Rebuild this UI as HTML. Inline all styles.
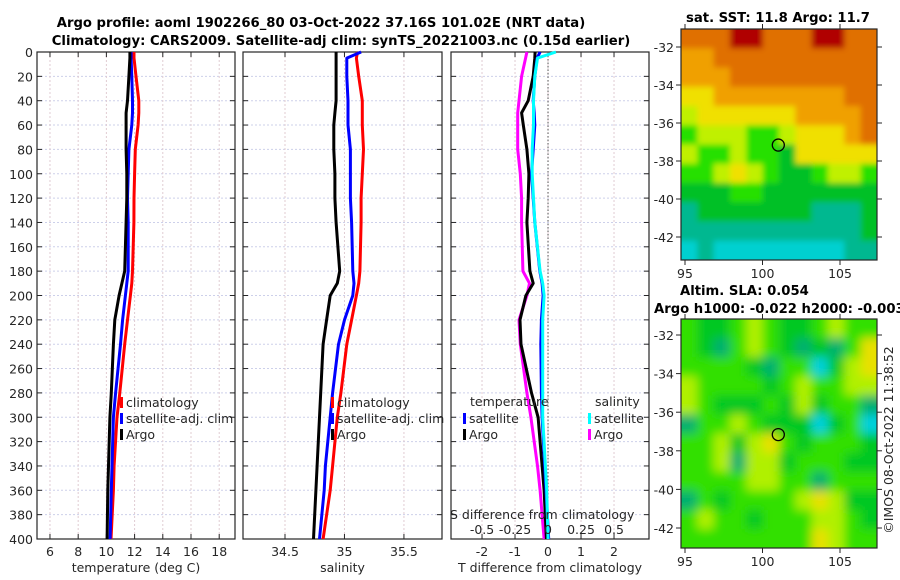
<!DOCTYPE html>
<html><head><meta charset="utf-8">
<style>
html,body{margin:0;padding:0;background:#fff;}
svg{display:block;font-family:"DejaVu Sans","Liberation Sans",sans-serif;}
.t{font-size:12.5px;fill:#262626;}
.b{font-weight:bold;font-size:13.2px;fill:#000;}
</style></head><body>
<svg id="fig" width="900" height="580" viewBox="0 0 900 580" xmlns="http://www.w3.org/2000/svg">
<defs>
<filter id="blurS" x="-5%" y="-5%" width="110%" height="110%"><feGaussianBlur stdDeviation="3"/></filter>
<filter id="blurL" x="-5%" y="-5%" width="110%" height="110%"><feGaussianBlur stdDeviation="5"/></filter>
<clipPath id="clipS"><rect x="681" y="29" width="196" height="231"/></clipPath>
<clipPath id="clipL"><rect x="681" y="319" width="196" height="229"/></clipPath>
</defs>
<text class="b" x="321" y="27" text-anchor="middle">Argo profile: aoml 1902266_80 03-Oct-2022 37.16S 101.02E (NRT data)</text>
<text class="b" x="341" y="45" text-anchor="middle">Climatology: CARS2009. Satellite-adj clim: synTS_20221003.nc (0.15d earlier)</text>
<text class="b" x="778" y="22" text-anchor="middle">sat. SST: 11.8 Argo: 11.7</text>
<text class="b" x="680" y="295">Altim. SLA: 0.054</text>
<text class="b" x="654" y="313">Argo h1000: -0.022 h2000: -0.003</text>
<text class="t" transform="translate(893,440) rotate(-90)" text-anchor="middle">©IMOS 08-Oct-2022 11:38:52</text>
<g id="plots"></g>
</svg>
<script>
// ---- data ----
const depths      = [0, 5, 20, 40, 50, 60, 80, 100, 120, 140, 180, 190, 200, 220, 240, 280, 300, 340, 360, 400];
const tempArgo    = [11.67,11.67,11.6,11.5,11.4,11.4,11.4,11.45,11.45,11.4,11.3,11.1,10.9,10.6,10.5,10.35,10.25,10.15,10.1,10.05];
const tempClim    = [11.96,11.96,12.1,12.3,12.3,12.25,12.05,12.0,11.96,11.95,11.85,11.8,11.7,11.5,11.3,10.95,10.75,10.55,10.5,10.33];
const tempSat     = [11.75,11.75,11.8,11.85,11.85,11.8,11.6,11.55,11.5,11.55,11.55,11.45,11.35,11.15,11.0,10.65,10.5,10.4,10.35,10.26];
const salArgo     = [34.93,34.93,34.93,34.93,34.92,34.91,34.91,34.92,34.92,34.93,34.96,34.94,34.88,34.85,34.82,34.80,34.79,34.77,34.76,34.74];
const salClim     = [35.11,35.10,35.12,35.15,35.15,35.15,35.16,35.15,35.14,35.14,35.13,35.12,35.10,35.06,35.02,34.97,34.94,34.90,34.88,34.82];
const salSat      = [35.14,35.02,35.02,35.03,35.03,35.03,35.05,35.05,35.05,35.06,35.07,35.08,35.07,35.0,34.95,34.9,34.88,34.84,34.83,34.79];
const tDiffArgo   = [-0.39,-0.4,-0.45,-0.6,-0.8,-0.75,-0.64,-0.58,-0.6,-0.64,-0.55,-0.45,-0.67,-0.85,-0.82,-0.5,-0.3,-0.18,-0.12,-0.05];
const tDiffSat    = [-0.24,-0.33,-0.4,-0.45,-0.42,-0.4,-0.45,-0.5,-0.45,-0.4,-0.25,-0.18,-0.15,-0.2,-0.22,-0.2,-0.18,-0.1,-0.06,0.02];
const sDiffArgo   = [-0.16,-0.17,-0.2,-0.22,-0.23,-0.23,-0.23,-0.21,-0.2,-0.2,-0.19,-0.14,-0.16,-0.22,-0.21,-0.16,-0.13,-0.08,-0.06,-0.03];
const sDiffSat    = [0.06,-0.08,-0.1,-0.11,-0.11,-0.11,-0.12,-0.12,-0.11,-0.1,-0.06,-0.04,-0.03,-0.04,-0.04,-0.04,-0.04,-0.02,-0.01,0.0];
const depthTicks  = [0,20,40,60,80,100,120,140,160,180,200,220,240,260,280,300,320,340,360,380,400];
const tempTicks   = [6,8,10,12,14,16,18];
const salTicks    = [34.5,35,35.5];
const tdTicks     = [-2,-1,0,1,2];
const sdTicks     = [-0.5,-0.25,0,0.25,0.5];
const sdTickLabels= ["-0.5","-0.25","0","0.25","0.5"];
const mapLonTicks = [95,100,105];
const mapLatTicks = [-32,-34,-36,-38,-40,-42];
const argoLon = 101.02, argoLat = -37.16;
const sstGrid = [
[15.6,15.6,15.6,16.4,16.4,15.6,15.6,15.6,16.4,16.4,15.6,15.6],
[14.8,14.8,15.6,15.6,15.6,15.6,15.6,15.6,15.6,15.6,15.6,15.6],
[14.8,14.8,14.8,15.6,15.6,15.6,15.6,15.6,15.6,15.6,15.6,15.6],
[14.0,14.0,14.8,14.8,14.8,14.8,14.8,14.8,14.8,14.8,15.6,15.6],
[13.2,14.0,14.0,14.0,14.0,14.0,14.0,14.8,14.8,14.8,14.8,15.6],
[12.4,13.2,13.2,13.2,12.4,12.4,13.2,14.0,14.0,14.0,14.8,15.6],
[13.2,12.4,12.4,13.2,12.4,12.4,11.6,14.0,14.0,14.0,14.0,14.0],
[12.4,12.4,13.2,14.0,13.2,12.4,11.6,11.6,12.4,13.2,13.2,12.4],
[11.6,11.6,11.6,12.4,12.4,11.6,11.6,11.6,11.6,11.6,11.6,11.6],
[10.8,11.6,11.6,11.6,11.6,11.6,11.6,11.6,10.8,10.8,10.8,11.6],
[10.8,10.8,10.8,10.8,10.8,10.8,10.8,10.8,10.8,10.8,10.8,11.6],
[10.0,10.8,10.0,10.0,10.0,10.0,10.0,10.0,10.0,10.0,10.8,10.8]];
const slaGrid = [
[0.03,-0.02,-0.02,0.03,0.09,0.03,-0.02,-0.02,0.03,0.09,0.03,0.03],
[0.03,-0.02,-0.08,0.03,0.09,0.03,-0.02,-0.08,-0.02,-0.08,0.03,0.15],
[0.03,0.03,0.03,0.03,-0.02,-0.08,0.03,0.03,-0.15,-0.02,0.09,0.15],
[0.09,0.03,0.03,0.03,0.03,-0.02,0.03,0.09,0.03,0.03,0.09,0.09],
[0.09,0.03,-0.02,-0.02,-0.02,0.03,-0.02,0.09,-0.02,0.03,0.03,-0.08],
[-0.08,0.03,0.03,0.09,0.03,-0.02,-0.02,-0.02,-0.15,-0.02,0.03,-0.15],
[0.03,0.03,0.09,-0.02,0.09,0.15,0.03,-0.02,0.03,0.03,0.03,-0.02],
[0.03,0.03,0.09,-0.08,0.09,0.09,-0.02,0.03,0.03,0.03,-0.02,-0.02],
[0.03,0.03,0.03,0.03,0.09,0.09,0.03,0.03,-0.08,0.03,0.03,0.03],
[-0.08,0.03,-0.02,0.03,0.03,0.03,0.03,0.09,0.15,0.09,-0.02,-0.02],
[0.03,0.09,0.03,0.03,-0.02,0.03,0.03,0.03,0.09,0.09,0.03,-0.02],
[0.03,0.03,0.03,0.03,0.03,0.03,0.03,0.03,0.15,0.09,0.03,0.03]];

// ---- drawing ----
const NS="http://www.w3.org/2000/svg";
const root=document.getElementById('plots');
function mk(tag,attrs,parent){const e=document.createElementNS(NS,tag);for(const k in attrs)e.setAttribute(k,attrs[k]);(parent||root).appendChild(e);return e;}
function lin(d0,d1,r0,r1){return v=>r0+(v-d0)/(d1-d0)*(r1-r0);}
const Y0=52,Y1=539;
const yD=lin(0,400,Y0,Y1);

function panel(name,x0,x1,dom,ticks,labels,xtitle,showY){
  const g=mk('g',{});
  
  
  const xs=lin(dom[0],dom[1],x0,x1);
  depthTicks.forEach(d=>{const l=mk('line',{x1:x0,x2:x1,y1:yD(d),y2:yD(d),stroke:'#cdd0ea','stroke-dasharray':'2,2','stroke-width':1},g);
    
    mk('line',{x1:x0,x2:x0+5,y1:yD(d),y2:yD(d),stroke:'#262626'},g);mk('line',{x1:x1-5,x2:x1,y1:yD(d),y2:yD(d),stroke:'#262626'},g);
    if(showY){const t=mk('text',{class:'t',x:x0-4,y:yD(d)+5,'text-anchor':'end'},g);t.textContent=d;
      }});
  ticks.forEach((v,i)=>{const l=mk('line',{x1:xs(v),x2:xs(v),y1:Y0,y2:Y1,stroke:'#e0ccd2','stroke-dasharray':'2,2'},g);
    
    mk('line',{x1:xs(v),x2:xs(v),y1:Y1,y2:Y1-5,stroke:'#262626'},g);mk('line',{x1:xs(v),x2:xs(v),y1:Y0,y2:Y0+5,stroke:'#262626'},g);
    const t=mk('text',{class:'t',x:xs(v),y:Y1+17,'text-anchor':'middle'},g);t.textContent=labels[i];
    });
  mk('rect',{x:x0,y:Y0,width:x1-x0,height:Y1-Y0,fill:'none',stroke:'#262626','stroke-width':1.2},g);
  const tt=mk('text',{class:'t',x:(x0+x1)/2,y:572,'text-anchor':'middle','font-size':'13px'},g);tt.textContent=xtitle;
  
  return {g,xs};
}
function line(p,vals,color,name,scaleFn){
  const pts=vals.map((v,i)=>(scaleFn(v)).toFixed(1)+','+yD(depths[i]).toFixed(1)).join(' ');
  const l=mk('polyline',{points:pts,fill:'none',stroke:color,'stroke-width':3,'stroke-linejoin':'round'},p.g);
  
}
function legend(g,x,y,items){
  items.forEach((it,i)=>{const yy=y+i*16;
    const r=mk('rect',{x:x,y:yy-10,width:3,height:11,fill:it[1]},g);
    
    const t=mk('text',{class:'t',x:x+6,y:yy,'font-size':'13px'},g);t.textContent=it[0];
    });
}
// panel 1
const p1=panel('temperature-panel',37,235,[5.08,19.12],tempTicks,tempTicks.map(String),'temperature (deg C)',true);
line(p1,tempClim,'#ff0000','temp-climatology-line',p1.xs);
line(p1,tempSat,'#0000ff','temp-satellite-line',p1.xs);
line(p1,tempArgo,'#000000','temp-argo-line',p1.xs);
legend(p1.g,120,407,[['climatology','#ff0000'],['satellite-adj. clim','#0000ff'],['Argo','#000000']]);
// panel 2
const p2=panel('salinity-panel',243,442,[34.147,35.82],salTicks,['34.5','35','35.5'],'salinity',false);
line(p2,salClim,'#ff0000','sal-climatology-line',p2.xs);
line(p2,salSat,'#0000ff','sal-satellite-line',p2.xs);
line(p2,salArgo,'#000000','sal-argo-line',p2.xs);
legend(p2.g,331,407,[['climatology','#ff0000'],['satellite-adj. clim','#0000ff'],['Argo','#000000']]);
// panel 3
const p3=panel('difference-panel',451,649,[-2.94,3.06],tdTicks,tdTicks.map(String),'T difference from climatology',false);
const sx=v=>p3.xs(v*4);
const zl=mk('line',{x1:p3.xs(0),x2:p3.xs(0),y1:Y0,y2:Y1,stroke:'#555','stroke-dasharray':'1.5,2'},p3.g);

line(p3,sDiffArgo,'#ff00ff','sdiff-argo-line',sx);
line(p3,tDiffArgo,'#000000','tdiff-argo-line',p3.xs);
line(p3,tDiffSat,'#0000ff','tdiff-satellite-line',p3.xs);
line(p3,sDiffSat,'#00ffff','sdiff-satellite-line',sx);
let lt=mk('text',{class:'t',x:470,y:406,'font-size':'13px'},p3.g);lt.textContent='temperature';

lt=mk('text',{class:'t',x:595,y:406,'font-size':'13px'},p3.g);lt.textContent='salinity';

legend(p3.g,463,423,[['satellite','#0000ff'],['Argo','#000000']]);
legend(p3.g,588,423,[['satellite','#00ffff'],['Argo','#ff00ff']]);
const stt=mk('text',{class:'t',x:450,y:519,'font-size':'13px'},p3.g);stt.textContent='S difference from climatology';

sdTicks.forEach((v,i)=>{const t=mk('text',{class:'t',x:sx(v),y:534,'text-anchor':'middle'},p3.g);t.textContent=sdTickLabels[i];
  });

// maps
function cmap(stops,v){
  for(let i=0;i<stops.length-1;i++){if(v<=stops[i+1][0]){const a=stops[i],b=stops[i+1];const f=(v-a[0])/(b[0]-a[0]);
    const c=a[1].map((c0,k)=>Math.round(c0+(b[1][k]-c0)*Math.max(0,Math.min(1,f))));return 'rgb('+c.join(',')+')';}}
  return 'rgb('+stops[stops.length-1][1].join(',')+')';
}
const sstStops=[[10.0,[0,208,208]],[10.8,[0,184,144]],[11.6,[0,192,40]],[12.4,[40,224,0]],[13.2,[192,240,0]],[14.0,[240,224,0]],[14.8,[240,160,0]],[15.6,[224,112,0]],[16.4,[176,0,0]]];
const slaStops=[[-0.15,[0,208,220]],[-0.08,[0,176,112]],[-0.02,[0,200,32]],[0.03,[48,224,0]],[0.09,[176,240,0]],[0.15,[232,224,0]]];
function map(name,x0,y0,x1,y1,grid,stops,latTop,clipId,filterId){
  const g=mk('g',{});
  
  
  const cg=mk('g',{'clip-path':'url(#'+clipId+')'},g);
  const bg=mk('g',{filter:'url(#'+filterId+')'},cg);
  const nr=grid.length,nc=grid[0].length,cw=(x1-x0)/nc,ch=(y1-y0)/nr,pad=14;
  grid.forEach((row,r)=>row.forEach((v,c)=>{
    let x=x0+c*cw,y=y0+r*ch,w=cw+0.6,h=ch+0.6;
    if(c===0){x-=pad;w+=pad;} if(c===nc-1){w+=pad;}
    if(r===0){y-=pad;h+=pad;} if(r===nr-1){h+=pad;}
    const e=mk('rect',{x:x,y:y,width:w,height:h,fill:cmap(stops,v)},bg);
    }));
  const xl=lin(95,105,685,840);
  const yl=lin(latTop,latTop-10,y0+(name==='sst-map'?18:16),y0+(name==='sst-map'?208:209));
  mk('rect',{x:x0,y:y0,width:x1-x0,height:y1-y0,fill:'none',stroke:'#262626','stroke-width':1.2},g);
  mapLonTicks.forEach(v=>{mk('line',{x1:xl(v),x2:xl(v),y1:y1,y2:y1+5,stroke:'#262626'},g);mk('line',{x1:xl(v),x2:xl(v),y1:y0,y2:y0-5,stroke:'#262626'},g);
    const t=mk('text',{class:'t',x:xl(v),y:y1+18,'text-anchor':'middle'},g);t.textContent=v;
    });
  mapLatTicks.forEach(v=>{mk('line',{x1:x0-5,x2:x0,y1:yl(v),y2:yl(v),stroke:'#262626'},g);mk('line',{x1:x1,x2:x1+5,y1:yl(v),y2:yl(v),stroke:'#262626'},g);
    const t=mk('text',{class:'t',x:x0-7,y:yl(v)+5,'text-anchor':'end'},g);t.textContent=v;
    });
  const c=mk('circle',{cx:xl(argoLon),cy:yl(argoLat),r:6,fill:'none',stroke:'#000','stroke-width':1.3},g);
  
}
map('sst-map',681,29,877,260,sstGrid,sstStops,-32,'clipS','blurS');
map('sla-map',681,319,877,548,slaGrid,slaStops,-32,'clipL','blurL');
</script>
</body></html>
